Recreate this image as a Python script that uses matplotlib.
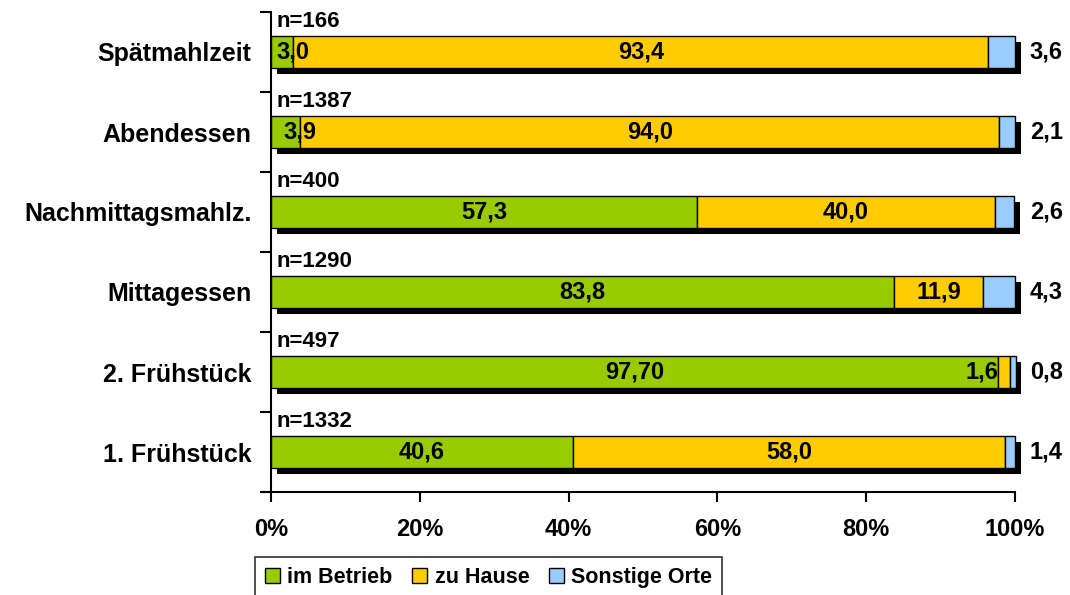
import matplotlib.pyplot as plt
import matplotlib.patheffects as pe
import numpy as np

plt.rcParams['font.family'] = ['Liberation Sans', 'DejaVu Sans']
plt.rcParams['font.weight'] = 'bold'

# data, bottom to top
meals = ["1. Frühstück", "2. Frühstück", "Mittagessen",
         "Nachmittagsmahlz.", "Abendessen", "Spätmahlzeit"]
n_counts = [1332, 497, 1290, 400, 1387, 166]
im_betrieb = [40.6, 97.7, 83.8, 57.3, 3.9, 3.0]
zu_hause = [58.0, 1.6, 11.9, 40.0, 94.0, 93.4]
sonstige = [1.4, 0.8, 4.3, 2.6, 2.1, 3.6]
betrieb_labels = ["40,6", "97,70", "83,8", "57,3", "3,9", "3,0"]

series = [("im Betrieb", im_betrieb, "#99CC00"),
          ("zu Hause", zu_hause, "#FFCC00"),
          ("Sonstige Orte", sonstige, "#99CCFF")]

fig = plt.figure(figsize=(10.7, 5.95), dpi=100)
ax = fig.add_axes([271 / 1070, 1 - 492 / 595, 744 / 1070, 480 / 595])

y = np.arange(len(meals))
shadow = [pe.SimplePatchShadow(offset=(4, -4), shadow_rgbFace='black', alpha=1.0), pe.Normal()]

left = np.zeros(len(meals))
for name, vals, col in series:
    bars = ax.barh(y, vals, height=0.4, left=left, color=col, edgecolor='black',
                   linewidth=1.0, label=name)
    for b in bars:
        b.set_path_effects(shadow)
        b.set_clip_on(False)
    left = left + np.array(vals)

fs = 17
# value labels
for i in range(len(meals)):
    g = im_betrieb[i]
    h = zu_hause[i]
    s = sonstige[i]
    if g >= 10:
        ax.text(g / 2, y[i], betrieb_labels[i], ha='center', va='center', fontsize=fs)
    else:
        ax.text(g, y[i], betrieb_labels[i], ha='center', va='center', fontsize=fs)
    hl = ("%.1f" % h).replace(".", ",")
    if h >= 5:
        ax.text(g + h / 2, y[i], hl, ha='center', va='center', fontsize=fs)
    else:
        ax.text(g, y[i], hl, ha='right', va='center', fontsize=fs)
    sl = ("%.1f" % s).replace(".", ",")
    ax.text(102, y[i], sl, ha='left', va='center', fontsize=fs, clip_on=False)
    ax.text(0.7, y[i] + 0.38, "n=%d" % n_counts[i], ha='left', va='center', fontsize=fs - 1)

ax.set_xlim(0, 100)
ax.set_ylim(-0.5, len(meals) - 0.5)

ax.set_xticks(np.arange(0, 101, 20))
ax.set_xticklabels(["%d%%" % v for v in range(0, 101, 20)], fontsize=fs)
ax.tick_params(axis='x', direction='out', length=7, width=1.5, pad=12)

ax.set_yticks(np.arange(-0.5, len(meals), 1.0))
ax.set_yticklabels([])
ax.tick_params(axis='y', which='major', direction='out', length=8, width=1.5)
ax.set_yticks(y, minor=True)
ax.set_yticklabels(meals, minor=True, fontsize=fs + 1)
ax.tick_params(axis='y', which='minor', length=0, pad=14)

for side in ['top', 'right']:
    ax.spines[side].set_visible(False)
ax.spines['left'].set_linewidth(1.5)
ax.spines['bottom'].set_linewidth(1.5)
ax.spines['bottom'].set_bounds(-1.2, 100)

leg = fig.legend(loc='upper left', bbox_to_anchor=(255 / 1070, 1 - 557 / 595), ncol=3,
                 fontsize=15.5, frameon=True, fancybox=False, edgecolor='black',
                 handlelength=0.7, handleheight=0.7, handletextpad=0.35,
                 columnspacing=0.9, borderpad=0.45, borderaxespad=0)
leg.get_frame().set_linewidth(1.2)
for hd in leg.legend_handles:
    hd.set_path_effects([])

fig.savefig("out.png", dpi=100)
